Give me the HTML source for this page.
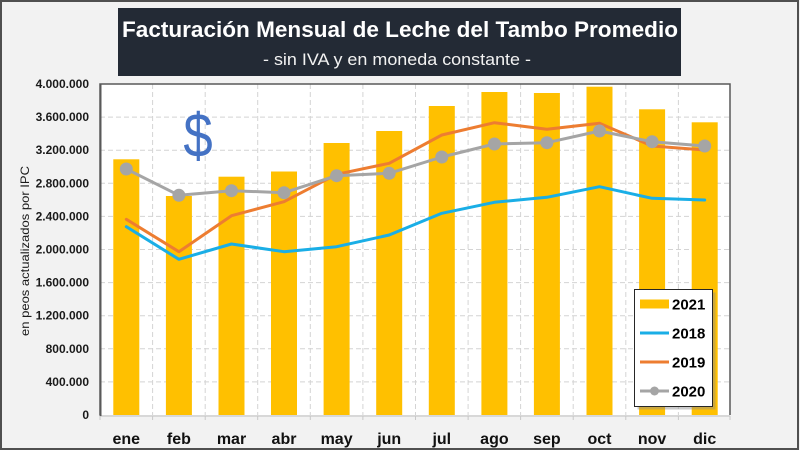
<!DOCTYPE html>
<html><head><meta charset="utf-8"><style>
html,body{margin:0;padding:0;background:#F2F2F2;}
svg{display:block;}
text{font-family:"Liberation Sans",sans-serif;}
</style></head><body>
<svg width="800" height="450" viewBox="0 0 800 450" xmlns="http://www.w3.org/2000/svg">
<rect x="0" y="0" width="800" height="450" fill="#F2F2F2"/>
<rect x="1" y="1" width="797" height="448" fill="none" stroke="#505050" stroke-width="2"/>
<!-- title box -->
<rect x="118" y="8" width="563" height="68" fill="#232A35"/>
<text x="400" y="37" font-size="22" font-weight="bold" fill="#FFFFFF" text-anchor="middle" textLength="556" lengthAdjust="spacingAndGlyphs">Facturación Mensual de Leche del Tambo Promedio</text>
<text x="397" y="65" font-size="17" fill="#F2F2F2" text-anchor="middle" textLength="268" lengthAdjust="spacingAndGlyphs">- sin IVA y en moneda constante -</text>
<!-- plot area -->
<rect x="100" y="84" width="630" height="331" fill="#FFFFFF"/>
<g stroke="#D4D4D4" stroke-width="1" stroke-dasharray="5,3">
<line x1="100" y1="117.1" x2="730" y2="117.1"/>
<line x1="100" y1="150.2" x2="730" y2="150.2"/>
<line x1="100" y1="183.3" x2="730" y2="183.3"/>
<line x1="100" y1="216.4" x2="730" y2="216.4"/>
<line x1="100" y1="249.5" x2="730" y2="249.5"/>
<line x1="100" y1="282.6" x2="730" y2="282.6"/>
<line x1="100" y1="315.7" x2="730" y2="315.7"/>
<line x1="100" y1="348.8" x2="730" y2="348.8"/>
<line x1="100" y1="381.9" x2="730" y2="381.9"/>
<line x1="152.6" y1="84" x2="152.6" y2="415"/>
<line x1="205.2" y1="84" x2="205.2" y2="415"/>
<line x1="257.7" y1="84" x2="257.7" y2="415"/>
<line x1="310.3" y1="84" x2="310.3" y2="415"/>
<line x1="362.9" y1="84" x2="362.9" y2="415"/>
<line x1="415.5" y1="84" x2="415.5" y2="415"/>
<line x1="468.1" y1="84" x2="468.1" y2="415"/>
<line x1="520.6" y1="84" x2="520.6" y2="415"/>
<line x1="573.2" y1="84" x2="573.2" y2="415"/>
<line x1="625.8" y1="84" x2="625.8" y2="415"/>
<line x1="678.4" y1="84" x2="678.4" y2="415"/>
</g>
<!-- bars 2021 -->
<g fill="#FFC000">
<rect x="113.3" y="159.3" width="26" height="255.7"/>
<rect x="165.9" y="196" width="26" height="219"/>
<rect x="218.5" y="176.7" width="26" height="238.3"/>
<rect x="271" y="171.5" width="26" height="243.5"/>
<rect x="323.6" y="143" width="26" height="272"/>
<rect x="376.2" y="131" width="26" height="284"/>
<rect x="428.8" y="106" width="26" height="309"/>
<rect x="481.4" y="92" width="26" height="323"/>
<rect x="533.9" y="93" width="26" height="322"/>
<rect x="586.5" y="86.7" width="26" height="328.3"/>
<rect x="639.1" y="109.3" width="26" height="305.7"/>
<rect x="691.7" y="122.3" width="26" height="292.7"/>
</g>
<!-- axes -->
<line x1="100" y1="416" x2="730" y2="416" stroke="#C8C8C8" stroke-width="1.2"/>
<g stroke="#C8C8C8" stroke-width="1">
<line x1="152.6" y1="416" x2="152.6" y2="420"/>
<line x1="205.2" y1="416" x2="205.2" y2="420"/>
<line x1="257.7" y1="416" x2="257.7" y2="420"/>
<line x1="310.3" y1="416" x2="310.3" y2="420"/>
<line x1="362.9" y1="416" x2="362.9" y2="420"/>
<line x1="415.5" y1="416" x2="415.5" y2="420"/>
<line x1="468.1" y1="416" x2="468.1" y2="420"/>
<line x1="520.6" y1="416" x2="520.6" y2="420"/>
<line x1="573.2" y1="416" x2="573.2" y2="420"/>
<line x1="625.8" y1="416" x2="625.8" y2="420"/>
<line x1="678.4" y1="416" x2="678.4" y2="420"/>
<line x1="100" y1="416" x2="100" y2="420"/>
<line x1="730" y1="416" x2="730" y2="420"/>
</g>
<polyline points="100,415 100,84 730,84 730,415" fill="none" stroke="#595959" stroke-width="1.5"/>
<line x1="100.5" y1="84" x2="100.5" y2="416" stroke="#595959" stroke-width="2"/>
<!-- $ sign -->
<text x="0" y="0" font-size="62" fill="#4472C4" text-anchor="middle" transform="translate(198,157) scale(0.85,1)">$</text>
<!-- lines -->
<polyline fill="none" stroke="#1AAEE6" stroke-width="3" stroke-linejoin="round" stroke-linecap="round" points="126.3,226.7 178.9,259.3 231.5,244 284,251.7 336.6,246.7 389.2,235 441.8,213.3 494.4,202.3 546.9,197.3 599.5,186.7 652.1,198.3 704.7,200"/>
<polyline fill="none" stroke="#ED7D31" stroke-width="3" stroke-linejoin="round" stroke-linecap="round" points="126.3,219.3 178.9,251.7 231.5,215.7 284,201.7 336.6,174.3 389.2,163.3 441.8,135 494.4,122.7 546.9,129.3 599.5,123.3 652.1,146 704.7,150"/>
<polyline fill="none" stroke="#A5A5A5" stroke-width="3" stroke-linejoin="round" points="126.3,169 178.9,195.3 231.5,190.7 284,192.7 336.6,175.7 389.2,173.3 441.8,157 494.4,144 546.9,142.7 599.5,131 652.1,141.7 704.7,146"/>
<g fill="#A5A5A5">
<circle cx="126.3" cy="169" r="6.5"/>
<circle cx="178.9" cy="195.3" r="6.5"/>
<circle cx="231.5" cy="190.7" r="6.5"/>
<circle cx="284" cy="192.7" r="6.5"/>
<circle cx="336.6" cy="175.7" r="6.5"/>
<circle cx="389.2" cy="173.3" r="6.5"/>
<circle cx="441.8" cy="157" r="6.5"/>
<circle cx="494.4" cy="144" r="6.5"/>
<circle cx="546.9" cy="142.7" r="6.5"/>
<circle cx="599.5" cy="131" r="6.5"/>
<circle cx="652.1" cy="141.7" r="6.5"/>
<circle cx="704.7" cy="146" r="6.5"/>
</g>
<!-- y tick labels -->
<g font-size="12" font-weight="bold" fill="#1A1A1A" text-anchor="end">
<text x="89" y="88">4.000.000</text>
<text x="89" y="121.1">3.600.000</text>
<text x="89" y="154.2">3.200.000</text>
<text x="89" y="187.3">2.800.000</text>
<text x="89" y="220.4">2.400.000</text>
<text x="89" y="253.5">2.000.000</text>
<text x="89" y="286.6">1.600.000</text>
<text x="89" y="319.7">1.200.000</text>
<text x="89" y="352.8">800.000</text>
<text x="89" y="385.9">400.000</text>
<text x="89" y="419">0</text>
</g>
<!-- y axis title -->
<text x="0" y="0" font-size="12" fill="#1A1A1A" text-anchor="middle" transform="translate(29,251) rotate(-90)" textLength="170" lengthAdjust="spacingAndGlyphs">en peos actualizados por IPC</text>
<!-- x labels -->
<g font-size="16" font-weight="bold" fill="#111" text-anchor="middle">
<text x="126.3" y="444">ene</text>
<text x="178.9" y="444">feb</text>
<text x="231.5" y="444">mar</text>
<text x="284" y="444">abr</text>
<text x="336.6" y="444">may</text>
<text x="389.2" y="444">jun</text>
<text x="441.8" y="444">jul</text>
<text x="494.4" y="444">ago</text>
<text x="546.9" y="444">sep</text>
<text x="599.5" y="444">oct</text>
<text x="652.1" y="444">nov</text>
<text x="704.7" y="444">dic</text>
</g>
<!-- legend -->
<rect x="637.5" y="292.5" width="78" height="117" fill="#8C8C8C" opacity="0.45"/>
<rect x="634.5" y="289.5" width="78" height="117" fill="#FFFFFF" stroke="#262626" stroke-width="1"/>
<rect x="640" y="299.5" width="29" height="9" fill="#FFC000"/>
<line x1="640" y1="333" x2="669" y2="333" stroke="#1AAEE6" stroke-width="3"/>
<line x1="640" y1="362" x2="669" y2="362" stroke="#ED7D31" stroke-width="3"/>
<line x1="640" y1="391" x2="669" y2="391" stroke="#A5A5A5" stroke-width="3"/>
<circle cx="654.5" cy="391" r="4.5" fill="#A5A5A5"/>
<g font-size="15" font-weight="bold" fill="#000">
<text x="672" y="309.5">2021</text>
<text x="672" y="338.5">2018</text>
<text x="672" y="367.5">2019</text>
<text x="672" y="396.5">2020</text>
</g>
</svg>
</body></html>
